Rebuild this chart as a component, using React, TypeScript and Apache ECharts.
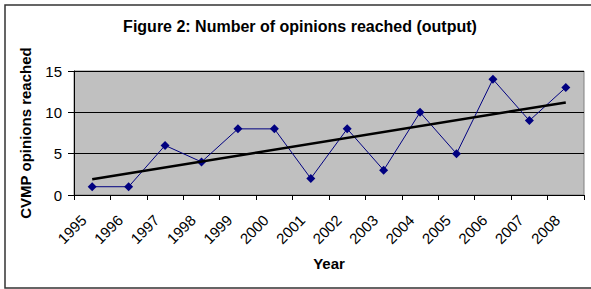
import React, { useEffect, useRef } from "react";
import * as echarts from "echarts";

const years = ["1995", "1996", "1997", "1998", "1999", "2000", "2001", "2002", "2003", "2004", "2005", "2006", "2007", "2008"];
const opinions = [1, 1, 6, 4, 8, 8, 2, 8, 3, 10, 5, 14, 9, 13];
const trendStart = 1.9;
const trendEnd = 11.2;
const yTicks = [0, 5, 10, 15];

const FONT = "'Liberation Sans', Arial, sans-serif";

export default function App() {
  const ref = useRef<HTMLDivElement>(null);
  useEffect(() => {
    const chart = echarts.init(ref.current!, null, { renderer: "svg" });
    const trend = years.map((_, i) => (i === 0 ? trendStart : i === years.length - 1 ? trendEnd : null));
    chart.setOption({
      animation: false,
      backgroundColor: "#ffffff",
      textStyle: { fontFamily: FONT },
      graphic: [
        {
          type: "rect",
          shape: { x: 5, y: 5, width: 590, height: 283 },
          style: { fill: "none", stroke: "#333333", lineWidth: 1.5 },
          silent: true,
        },
        {
          type: "text",
          x: 300,
          y: 26,
          style: {
            text: "Figure 2: Number of opinions reached (output)",
            fontFamily: FONT,
            fontSize: 16,
            fontWeight: "bold",
            fill: "#000",
            textAlign: "center",
            textVerticalAlign: "middle",
          },
        },
      ],
      grid: { left: 74, right: 7, top: 71, bottom: 94, show: true, backgroundColor: "#c0c0c0", borderColor: "#808080", borderWidth: 1 },
      xAxis: {
        type: "category",
        data: years,
        boundaryGap: true,
        name: "Year",
        nameLocation: "middle",
        nameGap: 61,
        nameMoveOverlap: false,
        nameTextStyle: { fontFamily: FONT, fontSize: 15, fontWeight: "bold", color: "#000" },
        axisLine: { lineStyle: { color: "#000", width: 1 } },
        axisTick: { show: true, alignWithLabel: false, length: 5, lineStyle: { color: "#000" } },
        axisLabel: { rotate: 45, interval: 0, fontFamily: FONT, fontSize: 15, color: "#000", margin: 14, padding: [0, 12, 0, 0] },
        splitLine: { show: false },
      },
      yAxis: {
        type: "value",
        min: 0,
        max: 15,
        interval: 5,
        name: "CVMP opinions reached",
        nameLocation: "middle",
        nameGap: 41,
        nameMoveOverlap: false,
        nameRotate: 90,
        nameTextStyle: { fontFamily: FONT, fontSize: 15, fontWeight: "bold", color: "#000" },
        axisLine: { show: true, lineStyle: { color: "#000", width: 1 } },
        axisTick: { show: true, length: 6, lineStyle: { color: "#000" } },
        axisLabel: { fontFamily: FONT, fontSize: 15, color: "#000", margin: 12, formatter: (v: number) => (yTicks.includes(v) ? String(v) : "") },
        splitLine: { show: true, lineStyle: { color: "#000", width: 1 } },
      },
      series: [
        {
          type: "line",
          data: opinions,
          symbol: "diamond",
          symbolSize: 9,
          lineStyle: { color: "#000080", width: 1 },
          itemStyle: { color: "#000080" },
          z: 3,
        },
        {
          type: "line",
          data: trend,
          connectNulls: true,
          symbol: "none",
          lineStyle: { color: "#000", width: 2.5 },
          z: 4,
        },
      ],
    });
    return () => chart.dispose();
  }, []);
  return <div ref={ref} style={{ position: "fixed", left: 0, top: 0, width: 591, height: 289 }} />;
}
